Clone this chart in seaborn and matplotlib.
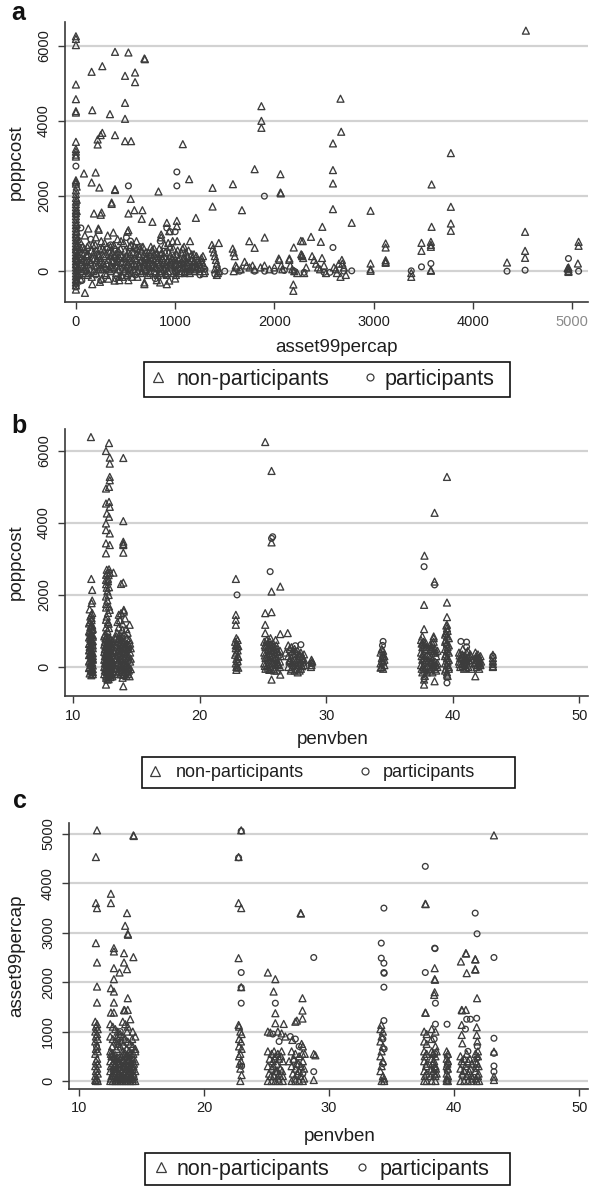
import matplotlib
matplotlib.use("Agg")
import matplotlib.pyplot as plt
import seaborn as sns
import pandas as pd
from matplotlib.lines import Line2D
from matplotlib.patches import Rectangle

# ---------------- data ----------------
GROUPS = ["non-participants", "participants"]

# panel a: asset99percap (x) vs poppcost (y)
a_non = [
    (0,6250),(0,6180),(0,6015),(0,4967),(0,4577),(0,4258),(0,4220),(0,3442),(0,3250),(0,3180),(0,3100),(0,3050),
    (0,2420),(0,2380),(0,2330),(0,2150),(0,2050),(0,1950),(0,1850),(0,1780),(0,1700),(0,1620),(0,1540),(0,1460),
    (0,1380),(0,1300),(0,1220),(0,1140),(0,1060),(0,980),(0,900),(0,820),(0,740),(0,660),(0,580),(0,500),(0,420),
    (0,340),(0,260),(0,180),(0,100),(0,20),(0,-60),(0,-140),(0,-220),(0,-300),(0,-380),(0,-490),(15,850),(15,450),
    (15,50),(15,-250),(8,1250),(8,1050),(8,650),(8,300),(8,-100),(8,2250),(8,1900),(8,1600),
    (91,-576),(158,5305),(266,5455),(394,5836),(529,5819),(690,5660),(695,5640),(495,5198),(596,5287),(596,5030),
    (165,4284),(343,4178),(495,4479),(495,4054),(1869,4391),(1869,4000),(1869,3814),(266,3681),(219,3504),(219,3371),
    (249,3620),(394,3620),(495,3460),(556,3460),(1077,3380),(81,2600),(199,2626),(158,2360),(236,2226),(394,2182),
    (394,2160),(552,1925),(360,1827),(360,1790),(182,1535),(259,1561),(250,1500),(529,1535),(589,1623),(670,1623),
    (663,1393),(771,1313),(916,1286),(1017,1340),(1017,1198),(832,2120),(1141,2448),(1209,1419),(1377,2217),
    (1377,1720),(1582,2315),(1673,1623),(1801,2714),(2061,2581),(2061,2093),(2065,2070),(125,1135),(226,1135),
    (377,1029),(529,1091),(859,976),(940,1064),(1902,896),(1747,798),(1801,621),(2044,337),(2151,337),(2286,798),
    (2195,630),(2279,426),(2191,-355),(2191,-523),(165,-346),(242,-284),(690,-346),(815,-240),(916,-346),(849,-300),
    (1000,-195),(438,-240),(529,-240),
    (4534,6400),(2666,4589),(2673,3710),(2590,3400),(2590,2690),(2590,2334),(2590,1651),(3778,3142),(3778,1713),
    (3778,1269),(3778,1074),(3584,2308),(3584,1180),(2969,1607),(2779,1287),(2483,1180),(2369,914),(2267,808),
    (2468,781),(3121,737),(3121,630),(3482,754),(3482,541),(3577,781),(3577,648),(3577,700),(4526,1047),(4526,541),
    (4526,355),(4344,231),(5065,781),(5065,675),(5058,204),(4963,100),(4963,50),(4963,0),(4963,-20),(4955,80),
    (3577,10),(3577,30),(3379,-151),(3379,-50),(2969,204),(2969,9),(2969,50),(3121,293),(3121,222),(3121,250),
    (2685,204),(2666,-151),(2700,100),
    (1370,700),(1380,600),(1390,500),(1400,400),(1410,300),(1420,200),(1430,100),(1440,0),(1420,-100),(1440,750),
    (1400,50),(1430,-50),(1580,600),(1590,500),(1600,400),(1610,150),(1590,0),(1620,100),(1660,50),(1700,250),
    (1720,150),(1750,100),(1780,150),(1800,50),(1860,100),(1900,150),(1950,50),(2000,100),(2050,300),(2070,150),
    (2080,50),(2150,300),(2160,150),(2180,50),(2200,0),(2230,-50),(2270,450),(2280,400),(2290,350),(2300,-50),
    (2320,100),(2380,400),(2400,300),(2420,200),(2440,100),(2460,50),(2480,350),(2500,150),(2520,-50),(2600,100),
    (2620,50),(2630,-50),(2650,200),(2680,300),(2720,-100),
    (40,800),(60,500),(80,300),(100,100),(120,-100),(50,200),(70,650),(90,950),(110,400),(130,700),(150,200),
    (160,-150),(180,500),(200,900),(210,300),(230,1100),(240,600),(250,100),(260,-200),(280,400),(290,750),(310,200),
    (320,950),(340,500),(350,0),(360,300),(380,700),(390,-250),(400,450),(410,150),(420,850),(440,350),(450,600),
    (460,-100),(470,250),(480,750),(500,50),(510,400),(520,1050),(530,200),(540,650),(560,-50),(570,300),(580,500),
    (600,150),(610,800),(620,-150),(640,400),(650,250),(660,550),(680,100),(690,-300),(700,350),(720,200),(730,500),
    (740,0),(760,300),(780,150),(790,450),(800,-50),(820,250),(840,600),(850,100),(860,900),(870,350),(890,50),
    (900,500),(910,200),(930,750),(940,-250),(950,400),(970,100),(980,600),(1000,300),(1010,0),(1020,800),(1040,200),
    (1060,500),(1080,100),(1090,650),(1100,350),(1120,0),(1140,250),(1150,800),(1170,150),(1190,450),(1210,50),
    (1230,300),(1260,100),(1280,400),(1300,0),
    (20,100),(30,400),(45,-200),(65,0),(85,600),(105,250),(125,450),(145,50),(165,350),(185,150),(205,-50),(225,450),
    (245,250),(265,50),(285,550),(305,-100),(325,300),(345,150),(365,500),(385,100),(405,-50),(425,550),(445,150),
    (465,400),(485,0),(505,250),(525,500),(545,100),(565,-150),(585,200),(605,450),(625,0),(645,100),(665,300),
    (685,450),(705,50),(725,-100),(745,250),(765,550),(785,0),(805,350),(825,-100),(845,200),(865,0),(885,250),
    (905,-50),(925,300),(945,150),(965,350),(985,-50),(1005,200),(1025,550),(1045,-50),(1065,250),(1085,350),
    (1105,150),(1125,400),(1145,50),(1165,300),(1185,100),(1205,200),(1245,0),(1270,250),
    (10,700),(35,550),(55,350),(75,150),(95,-50),(115,650),(135,300),(155,550),(175,0),(195,700),(215,150),(235,400),
    (255,800),(275,200),(295,-50),(315,650),(335,50),(355,400),(375,250),(395,600),(415,350),(435,-150),(455,800),
    (475,100),(495,550),(515,-100),(535,350),(555,700),(575,50),(595,350),(615,600),(635,200),(655,-50),(675,650),
    (695,200),(715,400),(735,150),(755,650),(775,350),(795,100),(815,500),(835,300),(855,450),(875,150),(895,700),
    (915,-100),(935,500),(955,250),(975,800),(995,150),(1015,450),(1035,300),(1055,100),(1075,600),(1095,-50),
    (1115,250),(1135,550),(1155,100),(1175,350),(1195,0),(1215,400),(1240,200),(1265,350),(1290,150),
    (12,300),(28,-100),(48,600),(68,250),(88,50),(108,450),(128,-50),(148,250),(168,700),(188,350),(208,550),(228,50),
    (248,350),(268,600),(288,150),(308,450),(328,-200),(348,650),(368,100),(388,400),(408,250),(428,50),(448,450),
    (468,-150),(488,350),(508,150),(528,-50),(548,450),(568,150),(588,650),(608,300),(628,150),(648,600),(668,0),
    (688,250),(708,500),(728,300),(748,-50),(768,200),(788,600),(808,100),(828,400),(848,-50),(868,500),(888,400),
    (908,100),(928,0),(948,650),(968,200),(988,400),(1008,-100),(1028,100),(1048,350),(1068,0),(1088,200),(1108,500),
    (1128,150),(1148,-50),(1168,450),(1188,250),(1228,100),(1255,300),(1290,-50),
]
a_par = [
    (0,2795),(1017,2640),(529,2270),(1017,2270),(1899,1996),(2590,630),(2779,9),(3379,9),(3482,115),(3577,204),
    (4344,0),(4526,27),(4963,337),(5065,0),(1902,0),(0,-420),(0,-320),(0,120),(0,320),(0,520),(0,900),(0,1500),
    (20,-150),(60,-250),(50,1150),(509,896),(916,1150),(1000,1050),(1650,0),(1800,0),(2000,0),(2100,20),(2200,0),
    (2300,-30),(2500,-30),(2560,-30),(1400,-80),(1500,0),(2700,0),(100,0),(200,-100),(300,50),(400,-200),(600,-100),
    (700,0),(800,-200),(900,-100),(1000,0),(1100,-50),(350,700),(450,200),(550,800),(650,650),(750,400),(850,800),
    (950,1050),(250,-250),(150,850),(1200,100),(1300,50),(1250,-100),
]

# panel b: penvben (x) vs poppcost (y)
b_non = [
    (11.4,6387),(11.43,2446),(11.5,2141),(11.5,1846),(11.45,1772),(11.43,1449),(11.45,1357),(11.43,-230),(11.55,-200),
    (11.3,1250),(11.45,1180),(11.35,1100),(11.5,1030),(11.3,960),(11.45,900),(11.55,840),(11.35,780),(11.45,720),
    (11.3,660),(11.55,600),(11.4,540),(11.3,480),(11.5,420),(11.35,360),(11.55,300),(11.45,240),(11.3,180),(11.5,120),
    (11.4,60),(11.3,0),(11.55,-60),(11.4,-120),(11.5,1150),(11.35,870),(11.5,680),(11.3,560),(11.45,400),(11.55,200),
    (11.35,100),(11.45,-40),
    (11.25,1210),(11.4,1130),(11.55,1060),(11.25,990),(11.4,930),(11.55,880),(11.25,820),(11.4,760),(11.55,720),
    (11.25,640),(11.4,600),(11.55,520),(11.25,460),(11.4,440),(11.55,380),(11.25,330),(11.4,270),(11.55,230),
    (11.25,150),(11.4,110),(11.55,40),(11.25,-30),(11.4,-80),(11.55,-140),(11.3,-180),(11.45,1300),(11.35,1400),
    (11.5,1500),(11.3,1600),
    (12.83,6221),(12.59,6000),(12.89,5815),(12.89,5649),(12.89,5280),(12.89,5187),(12.83,5003),(12.59,4957),
    (12.83,4587),(12.59,4541),(12.89,4449),(12.66,4264),(12.83,4172),(12.59,3987),(12.59,3803),(12.89,3710),
    (12.59,3434),(12.89,3387),(12.59,3157),(12.83,2714),(12.89,2621),(13.18,2621),(12.6,2560),(12.59,2418),
    (12.75,2380),(12.6,2300),(12.83,2215),(12.7,2100),(12.59,1957),(12.83,1680),(12.89,1588),(12.6,1650),
    (12.59,1311),(12.75,1250),(12.83,1080),(12.59,-489),(12.7,-350),
    (12.7,1000),(12.6,1100),(12.8,1200),(12.65,1400),(12.75,1500),(12.6,1750),(12.7,1850),(12.8,2000),(12.65,2200),
    (12.75,2450),(12.7,2600),(12.65,2700),(12.8,2550),
    (12.5,900),(12.65,860),(12.8,820),(12.95,780),(13.1,740),(12.5,700),(12.65,660),(12.8,620),(12.95,580),(13.1,540),
    (12.5,500),(12.65,460),(12.8,420),(12.95,380),(13.1,340),(12.5,300),(12.65,260),(12.8,220),(12.95,180),(13.1,140),
    (12.5,100),(12.65,60),(12.8,20),(12.95,-20),(13.1,-60),(12.5,-100),(12.65,-140),(12.8,-180),(12.95,-220),
    (13.1,-260),(12.6,-300),(12.8,-340),(12.95,-280),(12.55,800),(12.7,740),(12.85,680),(13.0,640),(12.55,580),
    (12.7,520),(12.85,480),(13.0,440),(12.55,380),(12.7,320),(12.85,280),(13.0,240),(12.55,180),(12.7,120),(12.85,80),
    (13.0,40),(12.55,-20),(12.7,-60),(12.85,-100),(13.0,-140),
    (12.45,850),(12.6,790),(12.75,710),(12.9,660),(13.05,600),(12.45,620),(12.6,560),(12.75,500),(12.9,440),(13.05,400),
    (12.45,420),(12.6,340),(12.75,280),(12.9,240),(13.05,200),(12.45,200),(12.6,130),(12.75,80),(12.9,20),(13.05,-30),
    (12.45,0),(12.6,-60),(12.75,-120),(12.9,-160),(13.05,-200),(12.45,-200),(12.6,-240),(12.75,-270),(12.9,-100),
    (13.05,100),
    (13.96,5806),(13.96,4052),(13.96,3480),(13.96,3420),(13.96,3387),(13.96,3175),(13.96,2344),(13.78,2307),
    (14.0,1588),(14.0,1540),(13.78,1495),(14.46,1172),(13.87,1034),(13.96,-535),(14.46,-258),(13.6,1450),(13.5,1250),
    (14.2,1050),(13.7,1300),(14.3,950),
    (13.4,850),(13.6,800),(13.8,750),(14.0,700),(14.2,650),(14.4,600),(13.4,550),(13.6,500),(13.8,450),(14.0,400),
    (14.2,350),(14.4,300),(13.4,250),(13.6,200),(13.8,150),(14.0,100),(14.2,50),(14.4,0),(13.4,-50),(13.6,-100),
    (13.8,-150),(14.0,-200),(14.2,-250),(14.4,-100),(13.5,700),(13.7,650),(13.9,600),(14.1,550),(14.3,500),(13.5,400),
    (13.7,350),(13.9,300),(14.1,250),(14.3,200),(13.5,100),(13.7,50),(13.9,0),(14.1,-50),(14.3,-150),(13.5,-200),
    (13.9,-300),(14.5,400),(14.5,150),(14.5,650),
    (13.35,780),(13.55,730),(13.75,680),(13.95,640),(14.15,600),(14.35,560),(14.55,520),(13.35,460),(13.55,430),
    (13.75,390),(13.95,350),(14.15,310),(14.35,270),(14.55,230),(13.35,150),(13.55,120),(13.75,80),(13.95,40),
    (14.15,10),(14.35,-30),(14.55,-60),(13.35,-120),(13.55,-150),(13.75,-200),(13.95,-220),(14.15,-130),(14.35,-200),
    (13.45,950),(13.65,900),(13.85,850),(14.05,900),(14.25,800),(14.45,750),(13.6,1100),(13.9,1200),(14.1,1350),
    (22.86,2446),(22.86,1449),(22.86,1311),(22.86,1172),(22.9,800),(23.0,750),(22.8,700),(22.95,640),(23.05,580),
    (22.85,520),(23.0,460),(22.9,400),(22.8,340),(23.05,280),(22.9,220),(23.0,160),(22.85,100),(22.95,40),(23.05,-20),
    (22.9,-80),(22.85,600),(23.0,300),(22.9,0),
    (25.18,6249),(25.68,5446),(25.68,3461),(25.68,2095),(25.68,1523),(25.18,1495),(26.37,2234),(25.18,1172),
    (25.18,941),(26.37,914),(26.96,941),(25.68,-350),(26.37,-212),
    (25.1,700),(25.35,650),(25.6,600),(25.85,550),(26.1,500),(26.35,450),(25.1,400),(25.35,350),(25.6,300),(25.85,250),
    (26.1,200),(26.35,150),(25.1,100),(25.35,50),(25.6,0),(25.85,-50),(26.1,-100),(26.35,0),(25.2,550),(25.45,500),
    (25.7,450),(25.95,400),(26.2,350),(25.2,250),(25.45,200),(25.7,150),(25.95,100),(26.2,50),(25.2,-50),(25.5,-80),
    (25.9,-100),(26.4,300),(25.6,800),(26.0,750),
    (25.15,600),(25.4,570),(25.65,520),(25.9,470),(26.15,420),(25.15,320),(25.4,280),(25.65,230),(25.9,180),
    (26.15,130),(25.15,30),(25.4,-20),(25.65,-60),(26.15,80),(25.3,750),(25.55,700),(25.8,650),(26.05,600),
    (27.0,600),(27.25,550),(27.5,500),(27.75,450),(28.0,400),(28.25,350),(27.0,300),(27.25,250),(27.5,200),(27.75,150),
    (28.0,100),(28.25,50),(27.0,0),(27.25,-50),(27.5,-100),(27.75,-150),(28.0,-50),(28.25,200),(27.1,150),(27.4,350),
    (27.6,50),(27.9,300),(28.1,250),(26.8,400),(27.3,100),(27.7,-50),(28.2,150),
    (27.1,500),(27.35,450),(27.6,400),(27.85,350),(28.1,300),(27.1,200),(27.35,170),(27.6,130),(27.85,60),(28.1,20),
    (27.2,-100),(27.9,-100),
    (28.84,200),(28.84,120),(28.84,50),(28.8,0),(28.9,150),
    (34.4,500),(34.5,450),(34.3,400),(34.6,300),(34.4,250),(34.5,150),(34.3,100),(34.6,50),(34.4,0),(34.5,-50),
    (34.3,-20),(34.6,200),(34.5,350),
    (37.77,3092),(37.74,1726),(37.74,1052),(37.74,-350),(37.74,-489),(38.57,4283),(38.57,2372),(38.5,849),(38.57,-397),
    (37.5,750),(37.7,700),(37.9,650),(38.2,600),(38.4,550),(38.6,500),(38.8,450),(37.5,400),(37.7,350),(37.9,300),
    (38.2,250),(38.4,200),(38.6,150),(38.8,100),(37.5,50),(37.7,0),(37.9,-50),(38.2,-100),(38.4,-150),(38.6,-50),
    (38.8,0),(37.6,550),(37.8,500),(38.3,450),(38.5,400),(38.7,300),(37.6,200),(37.8,150),(38.3,100),(38.5,50),
    (38.7,-100),(37.6,-150),(37.8,-250),(38.5,700),(38.5,800),
    (37.55,650),(37.75,600),(37.95,550),(38.25,500),(38.45,450),(38.65,400),(37.55,300),(37.75,250),(37.95,200),
    (38.25,150),(38.45,100),(38.65,50),(37.55,-50),(37.75,-100),(37.95,-150),(38.25,-50),(38.45,0),(37.6,850),
    (38.4,650),
    (39.55,5280),(39.55,1790),(39.55,1385),(39.55,1172),(39.55,1080),(39.55,-212),(39.4,900),(39.55,850),(39.7,800),
    (39.4,700),(39.55,650),(39.7,600),(39.4,500),(39.55,450),(39.7,400),(39.4,300),(39.55,250),(39.7,200),(39.4,100),
    (39.55,50),(39.7,0),(39.4,-100),(39.55,-150),(39.7,-50),(39.45,950),(39.6,1000),
    (39.45,750),(39.6,550),(39.45,350),(39.6,150),(39.45,-50),(39.6,-250),(39.5,1150),
    (40.5,400),(40.75,350),(41.0,300),(41.25,250),(41.5,200),(40.5,150),(40.75,100),(41.0,50),(41.25,0),(41.5,-50),
    (40.6,250),(40.9,200),(41.1,150),(41.4,100),(40.6,0),(40.9,-50),(41.1,400),(41.4,350),(41.79,-258),(40.8,500),
    (41.2,450),(40.55,320),(40.8,280),(41.05,230),(41.3,180),(40.55,80),(40.8,30),(41.05,-20),(41.3,300),
    (41.8,400),(42.0,350),(42.2,300),(41.9,250),(42.1,200),(41.8,150),(42.0,100),(42.2,50),(41.9,0),(42.1,-50),
    (42.25,150),(41.85,300),(41.85,200),(42.05,250),(41.95,50),(42.15,100),
    (43.18,340),(43.18,250),(43.18,150),(43.18,80),(43.18,20),(43.18,0),
]
b_par = [
    (22.95,2003),(25.77,3618),(25.68,3572),(25.57,2649),(27.56,590),(28.0,620),(34.5,710),(34.45,600),(37.74,2787),
    (38.57,2280),(39.55,-443),(37.74,-332),(40.65,710),(41.1,692),(41.1,560),(43.18,300),(43.18,100),(34.5,250),
    (34.4,100),(38.0,300),(38.0,0),(39.5,600),(39.5,300),(41.0,100),(40.7,200),(42.0,200),(42.1,0),(12.8,300),
    (13.0,0),(12.7,600),(13.5,300),(14.0,500),(13.8,-100),(11.4,300),(11.4,800),(23.0,500),(23.0,100),(25.4,450),
    (26.0,200),(27.4,0),(27.9,200),(28.84,100),(39.5,900),(37.6,600),
]

# panel c: penvben (x) vs asset99percap (y)
c_non = [
    (11.44,5075),(11.35,4534),(11.35,3602),(11.44,3500),(11.35,2791),(11.44,2399),(11.44,1912),(11.44,1588),
    (11.3,1200),(11.45,1150),(11.35,1100),(11.5,1050),(11.3,1000),(11.45,950),(11.35,900),(11.5,850),(11.3,800),
    (11.45,700),(11.35,650),(11.5,600),(11.3,550),(11.45,450),(11.35,400),(11.5,350),(11.3,300),(11.45,250),
    (11.35,200),(11.5,150),(11.3,100),(11.45,50),(11.35,0),(11.5,0),(11.3,20),
    (12.55,3791),(12.55,3602),(12.79,2689),(12.79,2622),(12.79,2284),(12.79,2061),(12.55,1878),(12.79,1811),
    (12.79,1588),(12.55,1385),(12.79,1385),(13.24,2196),(13.6,2399),(13.6,2588),(13.84,3399),(13.69,3142),(13.9,2980),
    (13.92,2960),(13.84,2264),(14.35,2507),(14.35,4973),(14.38,4960),(13.9,1676),(13.6,1439),(13.65,1430),(13.9,1439),
    (12.5,1150),(12.7,1100),(12.9,1050),(13.1,1000),(13.3,950),(13.5,1200),(13.7,1150),(13.9,1100),(14.1,1250),
    (14.3,1000),(14.5,900),(12.5,900),(12.7,850),(12.9,800),(13.1,750),(13.3,700),(13.5,900),(13.7,850),(13.9,800),
    (14.1,750),(14.3,700),(14.5,650),(12.5,600),(12.7,560),(12.9,520),(13.1,480),(13.3,440),(13.5,600),(13.7,560),
    (13.9,520),(14.1,480),(14.3,440),(14.5,600),(12.5,400),(12.7,360),(12.9,320),(13.1,280),(13.3,240),(13.5,400),
    (13.7,360),(13.9,320),(14.1,280),(14.3,240),(14.5,400),(12.5,200),(12.7,160),(12.9,120),(13.1,80),(13.3,40),
    (13.5,200),(13.7,160),(13.9,120),(14.1,80),(14.3,40),(14.5,200),(12.5,0),(12.7,0),(12.9,0),(13.1,0),(13.3,0),
    (13.5,0),(13.7,0),(13.9,0),(14.1,0),(14.3,0),(14.5,0),(12.6,500),(12.8,300),(13.0,650),(13.2,150),(13.4,500),
    (13.6,300),(13.8,650),(14.0,150),(14.2,550),(14.4,100),(12.6,100),(13.0,250),(13.4,100),(13.8,250),(14.2,300),
    (13.2,350),(13.6,50),(14.0,600),(14.4,350),
    (12.55,550),(12.75,500),(12.95,450),(13.15,400),(13.35,350),(13.55,550),(13.75,500),(13.95,450),(14.15,400),
    (14.35,550),(12.55,300),(12.75,250),(12.95,200),(13.15,150),(13.35,100),(13.55,300),(13.75,250),(13.95,200),
    (14.15,150),(14.35,300),(12.55,50),(12.75,100),(12.95,50),(13.15,350),(13.35,50),(13.55,100),(13.75,50),
    (13.95,50),(14.15,350),(14.35,150),(12.65,700),(13.05,900),(13.45,800),(13.85,1000),(14.25,850),
    (22.97,5075),(22.76,4534),(22.76,3602),(22.97,3500),(22.76,2487),(22.97,1899),(22.76,1135),(22.8,1100),(22.9,1000),
    (23.0,950),(22.8,850),(22.95,800),(22.8,700),(23.0,650),(22.9,550),(22.8,500),(22.95,400),(22.85,350),(22.9,250),
    (23.0,120),(22.9,0),
    (25.1,2196),(25.7,2061),(25.56,1811),(25.7,1372),(25.7,1169),(25.1,1000),(25.3,980),(25.6,600),(25.1,600),
    (25.4,550),(25.7,500),(26.0,450),(26.3,400),(25.1,300),(25.4,250),(25.7,200),(26.0,150),(26.3,100),(25.1,0),
    (25.4,0),(25.7,0),(26.0,0),(26.3,0),(25.2,150),(25.5,400),(25.8,350),(26.1,250),(25.6,100),(25.9,550),(26.2,600),
    (26.37,1155),(26.2,963),(26.5,900),(25.9,1000),
    (25.25,450),(25.55,300),(25.85,200),(26.15,500),(25.35,100),(25.65,450),(25.95,50),(26.25,200),
    (27.72,3399),(27.75,3390),(27.87,1676),(27.87,1426),(27.87,1264),(27.42,1223),(27.3,1200),(27.06,831),(27.0,600),
    (27.3,550),(27.6,500),(27.9,700),(27.0,300),(27.3,250),(27.6,200),(27.9,400),(28.05,550),(27.0,0),(27.3,0),
    (27.6,0),(27.9,0),(27.1,150),(27.4,350),(27.7,100),(28.0,250),(27.8,750),(26.8,400),
    (27.15,450),(27.45,150),(27.75,300),(28.0,50),(27.25,50),(27.55,350),(27.85,550),
    (28.77,547),(28.77,20),(28.9,520),
    (34.17,1135),(34.1,1050),(34.3,1000),(34.2,900),(34.1,800),(34.3,700),(34.2,600),(34.1,500),(34.3,400),(34.2,300),
    (34.1,200),(34.3,100),(34.2,0),(34.4,50),(34.4,0),
    (37.69,3588),(37.72,3580),(37.69,1385),(37.72,1380),(38.44,2284),(38.44,2061),(38.47,2050),(38.44,1797),(38.4,1743),
    (37.6,1000),(37.8,950),(38.2,1050),(38.5,1000),(37.6,800),(37.8,750),(38.2,850),(38.5,700),(37.6,600),(37.8,550),
    (38.2,600),(38.5,500),(37.6,400),(37.8,350),(38.2,450),(38.5,300),(37.6,200),(37.8,150),(38.2,250),(38.5,100),
    (37.6,0),(37.8,0),(38.2,0),(38.5,0),(38.4,400),(38.35,200),(38.6,150),(38.6,600),(38.1,100),
    (37.65,500),(37.75,300),(37.65,100),(38.25,350),(38.45,150),(38.3,550),(38.55,250),
    (39.4,600),(39.5,550),(39.4,450),(39.5,400),(39.4,300),(39.5,250),(39.4,150),(39.5,100),(39.4,0),(39.5,0),
    (39.45,350),(39.4,50),
    (40.54,2419),(40.93,2588),(40.96,2580),(41.0,2183),(40.6,1439),(40.63,1430),(40.93,1439),(40.6,1135),(40.6,932),
    (40.65,763),(40.5,500),(40.8,450),(41.1,400),(41.4,350),(40.5,250),(40.8,200),(41.1,150),(41.4,100),(40.5,0),
    (40.8,0),(41.1,0),(41.4,0),(40.7,350),(41.0,550),(41.3,250),
    (40.6,400),(40.9,300),(41.2,200),(41.45,50),(40.65,150),(41.0,100),(41.25,450),
    (41.68,2466),(41.7,2460),(41.68,2264),(41.7,2255),(41.83,1676),(41.8,1088),(41.8,932),(41.7,550),(41.9,500),
    (41.75,400),(41.95,300),(41.7,200),(41.9,100),(41.8,0),(42.0,0),(41.85,800),
    (41.8,350),(41.95,150),(41.75,50),(41.9,600),
    (43.18,4973),(43.18,595),(43.18,88),(43.18,20),
]
c_par = [
    (22.97,2196),(22.97,1575),(22.97,1890),(22.97,5060),(22.76,4520),(25.7,1575),(28.77,2500),(28.77,189),
    (34.38,3500),(34.17,2791),(34.17,2487),(34.38,2385),(34.38,2196),(34.4,2180),(34.38,1899),(34.38,1223),
    (34.3,850),(34.4,650),(34.3,350),(37.69,4345),(37.69,2196),(38.44,2689),(38.47,2680),(38.5,1575),(38.5,1150),
    (38.4,850),(38.45,550),(38.4,250),(39.43,1149),(39.45,500),(39.5,350),(39.45,200),(39.5,0),(41.0,1250),
    (41.3,1250),(41.68,3399),(41.83,2980),(41.8,1270),(41.85,700),(41.8,450),(41.75,250),(43.18,2500),(43.18,865),
    (43.18,304),(43.18,189),(43.18,560),(27.3,850),(26.9,900),(27.6,700),(27.9,150),(27.2,400),(25.5,950),
    (26.0,800),(13.0,800),(13.5,700),(12.8,450),(14.0,400),(11.4,700),(40.9,1050),(41.1,600),(40.7,100),
    (13.3,1000),(23.0,300),
]

a_xticks = [0, 1000, 2000, 3000, 4000, 5000]
a_yticks = [0, 2000, 4000, 6000]
b_xticks = [10, 20, 30, 40, 50]
b_yticks = [0, 2000, 4000, 6000]
c_xticks = [10, 20, 30, 40, 50]
c_yticks = [0, 1000, 2000, 3000, 4000, 5000]


def frame(non, par, xname, yname):
    rows = [(x, y, GROUPS[0]) for x, y in non] + [(x, y, GROUPS[1]) for x, y in par]
    return pd.DataFrame(rows, columns=[xname, yname, "group"])


# ---------------- styling ----------------
sns.set_theme(style="white")
plt.rcParams['font.family'] = ['Liberation Sans', 'DejaVu Sans']

EDGE = '#3c3c3c'
W, H = 590, 1186
fig = plt.figure(figsize=(W / 100, H / 100), dpi=100)


def ax_px(l, t, r, b):
    return fig.add_axes([l / W, 1 - b / H, (r - l) / W, (b - t) / H])


def draw(ax, df, xname, yname):
    for g, m, s in [(GROUPS[0], '^', 25), (GROUPS[1], 'o', 17)]:
        sub = df[df["group"] == g]
        sns.scatterplot(data=sub, x=xname, y=yname, ax=ax, marker=m, s=s,
                        facecolor='none', edgecolor=EDGE, linewidth=0.95,
                        legend=False, zorder=3)


def style(ax, xlim, ylim, xticks, yticks, xlabel, ylabel, xl_pos, yl_x):
    ax.set_xlim(xlim)
    ax.set_ylim(ylim)
    ax.set_xticks(xticks)
    ax.set_yticks(yticks)
    ax.set_xticklabels([str(t) for t in xticks])
    ax.set_yticklabels([str(t) for t in yticks])
    ax.yaxis.grid(True, color='#d2d2d2', linewidth=1.6, zorder=0)
    ax.xaxis.grid(False)
    ax.set_axisbelow(True)
    for s in ['top', 'right']:
        ax.spines[s].set_visible(False)
    for s in ['left', 'bottom']:
        ax.spines[s].set_color('#3a3a3a')
        ax.spines[s].set_linewidth(1.2)
    ax.tick_params(axis='both', direction='out', length=5, width=1.0,
                   color='#3a3a3a', labelsize=10.5, labelcolor='#1e1e1e',
                   bottom=True, left=True)
    ax.tick_params(axis='x', pad=4)
    ax.tick_params(axis='y', pad=5, labelrotation=90)
    for lab in ax.get_yticklabels():
        lab.set_va('center')
    ax.set_xlabel(xlabel, fontsize=13.5, color='#1e1e1e')
    ax.set_ylabel(ylabel, fontsize=13.5, color='#1e1e1e')
    ax.xaxis.set_label_coords(xl_pos[0], xl_pos[1])
    ax.xaxis.label.set_va('top')
    ax.yaxis.set_label_coords(yl_x, 0.5)


def legend(box, fs, entries):
    """box = (l, t, r, b) in pixels; entries = [(marker_center_x, text_start_x), ...]"""
    l, t, r, b = box
    fig.add_artist(Rectangle((l / W, 1 - b / H), (r - l) / W, (b - t) / H,
                             transform=fig.transFigure, fill=False,
                             edgecolor='#111111', linewidth=1.2))
    yc = 1 - (t + b) / 2 / H
    fs_px = fs * 100 / 72
    hl = 0.6
    specs = [('^', 6.5), ('o', 5.0)]
    for (mk, ms), label, (cx, tx) in zip(specs, GROUPS, entries):
        h = Line2D([], [], marker=mk, linestyle='none', markersize=ms,
                   markerfacecolor='none', markeredgecolor=EDGE, markeredgewidth=0.9)
        left = cx - hl / 2 * fs_px
        hp = (tx - cx - hl / 2 * fs_px) / fs_px
        leg = fig.legend([h], [label], loc='center left',
                         bbox_to_anchor=(left / W, yc), bbox_transform=fig.transFigure,
                         frameon=False, fontsize=fs, borderpad=0, borderaxespad=0,
                         handlelength=hl, handletextpad=hp)
        for t_ in leg.get_texts():
            t_.set_color('#1e1e1e')


# panel a
ax_a = ax_px(65, 22, 588, 302)
df_a = frame(a_non, a_par, "asset99percap", "poppcost")
draw(ax_a, df_a, "asset99percap", "poppcost")
style(ax_a, (-110, 5160), (-820, 6630), a_xticks, a_yticks,
      "asset99percap", "poppcost", ((337 - 65) / 523, (302 - 339) / 280), (25 - 65) / 523)
ax_a.get_xticklabels()[-1].set_color('#8a8a8a')
legend((144, 362, 510, 397), 15.5, [(158, 177), (370, 385)])

# panel b
ax_b = ax_px(65, 429, 588, 696)
df_b = frame(b_non, b_par, "penvben", "poppcost")
draw(ax_b, df_b, "penvben", "poppcost")
style(ax_b, (9.35, 50.7), (-806, 6611), b_xticks, b_yticks,
      "penvben", "poppcost", ((333 - 65) / 523, (696 - 731) / 267), (25 - 65) / 523)
legend((142, 757, 515, 788), 13, [(155, 176), (365, 383)])

# panel c
ax_c = ax_px(69, 823, 588, 1089)
df_c = frame(c_non, c_par, "penvben", "asset99percap")
draw(ax_c, df_c, "penvben", "asset99percap")
style(ax_c, (9.2, 50.7), (-162, 5223), c_xticks, c_yticks,
      "penvben", "asset99percap", ((340 - 69) / 519, (1089 - 1128) / 266), (25 - 69) / 519)
legend((145, 1153, 510, 1185), 15.5, [(161, 177), (362, 380)])

# panel letters
for ch, x, y in [('a', 11, 20), ('b', 11, 433), ('c', 13, 808)]:
    fig.text(x / W, 1 - y / H, ch, fontsize=18, fontweight='bold', color='#111111',
             ha='left', va='baseline')

fig.savefig("out.png", dpi=100)
